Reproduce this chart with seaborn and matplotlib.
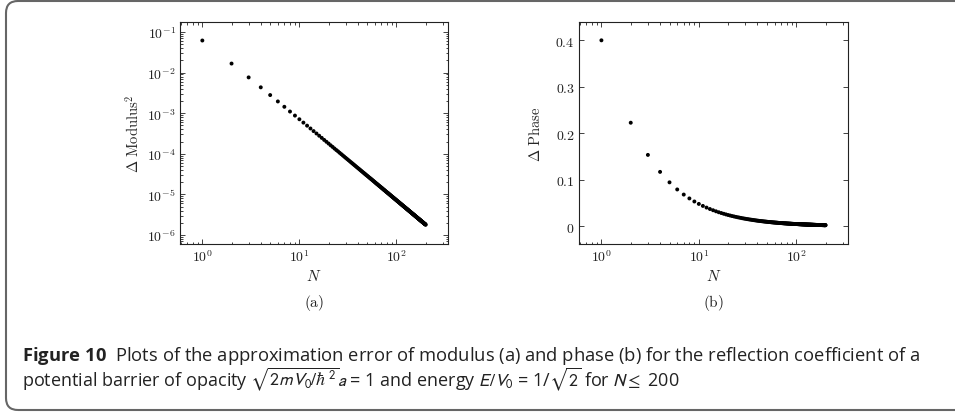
import numpy as np
import pandas as pd
import matplotlib
matplotlib.use("Agg")
import matplotlib.pyplot as plt
import matplotlib.patches as mpatches
import matplotlib.transforms as mtransforms
from matplotlib.ticker import FuncFormatter, LogLocator, FixedLocator, NullFormatter
import seaborn as sns

# N = 1 .. 200
n_values = np.arange(1, 201)

# Delta Modulus^2
modulus_err = [
    0.0617, 0.0167, 0.00762, 0.00434, 0.00280, 0.00195, 0.00144, 0.00110, 0.000875, 0.000710,
    0.000587, 0.000494, 0.000421, 0.000363, 0.000317, 0.000279, 0.000247, 0.000220, 0.000198, 0.000179,
    0.000162, 0.000148, 0.000135, 0.000124, 0.000115, 0.000106, 9.83e-5, 9.14e-5, 8.52e-5, 7.96e-5,
    7.46e-5, 7.00e-5, 6.58e-5, 6.20e-5, 5.86e-5, 5.54e-5, 5.24e-5, 4.97e-5, 4.71e-5, 4.48e-5,
    4.27e-5, 4.07e-5, 3.88e-5, 3.71e-5, 3.55e-5, 3.39e-5, 3.25e-5, 3.12e-5, 2.99e-5, 2.87e-5,
    2.77e-5, 2.66e-5, 2.56e-5, 2.47e-5, 2.38e-5, 2.30e-5, 2.22e-5, 2.14e-5, 2.07e-5, 2.00e-5,
    1.93e-5, 1.87e-5, 1.81e-5, 1.76e-5, 1.70e-5, 1.65e-5, 1.60e-5, 1.56e-5, 1.51e-5, 1.47e-5,
    1.43e-5, 1.39e-5, 1.35e-5, 1.31e-5, 1.28e-5, 1.25e-5, 1.21e-5, 1.18e-5, 1.15e-5, 1.12e-5,
    1.10e-5, 1.07e-5, 1.05e-5, 1.02e-5, 9.97e-6, 9.74e-6, 9.51e-6, 9.30e-6, 9.09e-6, 8.89e-6,
    8.69e-6, 8.51e-6, 8.32e-6, 8.15e-6, 7.98e-6, 7.81e-6, 7.65e-6, 7.50e-6, 7.35e-6, 7.20e-6,
    7.06e-6, 6.92e-6, 6.79e-6, 6.66e-6, 6.53e-6, 6.41e-6, 6.29e-6, 6.17e-6, 6.06e-6, 5.95e-6,
    5.84e-6, 5.74e-6, 5.64e-6, 5.54e-6, 5.44e-6, 5.35e-6, 5.26e-6, 5.17e-6, 5.08e-6, 5.00e-6,
    4.92e-6, 4.84e-6, 4.76e-6, 4.68e-6, 4.61e-6, 4.54e-6, 4.46e-6, 4.39e-6, 4.33e-6, 4.26e-6,
    4.20e-6, 4.13e-6, 4.07e-6, 4.01e-6, 3.95e-6, 3.89e-6, 3.84e-6, 3.78e-6, 3.73e-6, 3.67e-6,
    3.62e-6, 3.57e-6, 3.52e-6, 3.47e-6, 3.42e-6, 3.38e-6, 3.33e-6, 3.29e-6, 3.24e-6, 3.20e-6,
    3.16e-6, 3.12e-6, 3.08e-6, 3.04e-6, 3.00e-6, 2.96e-6, 2.92e-6, 2.88e-6, 2.85e-6, 2.81e-6,
    2.78e-6, 2.74e-6, 2.71e-6, 2.68e-6, 2.64e-6, 2.61e-6, 2.58e-6, 2.55e-6, 2.52e-6, 2.49e-6,
    2.46e-6, 2.43e-6, 2.41e-6, 2.38e-6, 2.35e-6, 2.32e-6, 2.30e-6, 2.27e-6, 2.25e-6, 2.22e-6,
    2.20e-6, 2.17e-6, 2.15e-6, 2.13e-6, 2.10e-6, 2.08e-6, 2.06e-6, 2.04e-6, 2.02e-6, 1.99e-6,
    1.97e-6, 1.95e-6, 1.93e-6, 1.91e-6, 1.89e-6, 1.87e-6, 1.86e-6, 1.84e-6, 1.82e-6, 1.80e-6,
]

# Delta Phase
phase_err = [
    0.400, 0.2228, 0.1536, 0.1171, 0.0946, 0.0793, 0.0683, 0.0600, 0.0534, 0.0482,
    0.0439, 0.0403, 0.0372, 0.0346, 0.0323, 0.0303, 0.0286, 0.0270, 0.0256, 0.0243,
    0.0232, 0.0221, 0.0212, 0.0203, 0.0195, 0.0188, 0.0181, 0.0174, 0.0168, 0.0163,
    0.0157, 0.0153, 0.0148, 0.0144, 0.0140, 0.0136, 0.0132, 0.0129, 0.0125, 0.0122,
    0.0119, 0.0116, 0.0114, 0.0111, 0.0109, 0.0106, 0.0104, 0.0102, 0.0100, 0.0098,
    0.0096, 0.0094, 0.0092, 0.0091, 0.0089, 0.0087, 0.0086, 0.0084, 0.0083, 0.0082,
    0.0080, 0.0079, 0.0078, 0.0077, 0.0075, 0.0074, 0.0073, 0.0072, 0.0071, 0.0070,
    0.0069, 0.0068, 0.0067, 0.0066, 0.0065, 0.0064, 0.0064, 0.0063, 0.0062, 0.0061,
    0.0060, 0.0060, 0.0059, 0.0058, 0.0058, 0.0057, 0.0056, 0.0056, 0.0055, 0.0054,
    0.0054, 0.0053, 0.0053, 0.0052, 0.0052, 0.0051, 0.0051, 0.0050, 0.0050, 0.0049,
    0.0049, 0.0048, 0.0048, 0.0047, 0.0047, 0.0046, 0.0046, 0.0045, 0.0045, 0.0045,
    0.0044, 0.0044, 0.0043, 0.0043, 0.0043, 0.0042, 0.0042, 0.0042, 0.0041, 0.0041,
    0.0041, 0.0040, 0.0040, 0.0040, 0.0039, 0.0039, 0.0039, 0.0038, 0.0038, 0.0038,
    0.0037, 0.0037, 0.0037, 0.0037, 0.0036, 0.0036, 0.0036, 0.0036, 0.0035, 0.0035,
    0.0035, 0.0035, 0.0034, 0.0034, 0.0034, 0.0034, 0.0033, 0.0033, 0.0033, 0.0033,
    0.0032, 0.0032, 0.0032, 0.0032, 0.0032, 0.0031, 0.0031, 0.0031, 0.0031, 0.0031,
    0.0030, 0.0030, 0.0030, 0.0030, 0.0030, 0.0030, 0.0029, 0.0029, 0.0029, 0.0029,
    0.0029, 0.0029, 0.0028, 0.0028, 0.0028, 0.0028, 0.0028, 0.0028, 0.0027, 0.0027,
    0.0027, 0.0027, 0.0027, 0.0027, 0.0027, 0.0026, 0.0026, 0.0026, 0.0026, 0.0026,
    0.0026, 0.0026, 0.0025, 0.0025, 0.0025, 0.0025, 0.0025, 0.0025, 0.0025, 0.0025,
]

phase_ticks = [0, 0.1, 0.2, 0.3, 0.4]
panel_labels = ["(a)", "(b)"]
caption_line1 = (r"$\mathbf{Figure\ 10}$  Plots of the approximation error of modulus (a) "
                 r"and phase (b) for the reflection coefficient of a")
caption_line2 = (r"potential barrier of opacity $\sqrt{2mV_0/\hbar^2}a$ = 1 and energy "
                 r"$E/V_0$ = 1/$\sqrt{2}$ for $N \leq$ 200")

df = pd.DataFrame({"N": n_values, "modulus": modulus_err, "phase": phase_err})

sns.set_style("ticks")
plt.rcParams["mathtext.fontset"] = "cm"
plt.rcParams["mathtext.rm"] = "Open Sans"
plt.rcParams["mathtext.it"] = "Open Sans:italic"
plt.rcParams["mathtext.bf"] = "Open Sans:bold"

W, H = 955, 414
fig = plt.figure(figsize=(W / 100, H / 100), dpi=100)

def px_axes(x0, y0, x1, y1):
    return fig.add_axes([x0 / W, 1 - y1 / H, (x1 - x0) / W, (y1 - y0) / H])

ax1 = px_axes(180, 23, 448, 245)
ax2 = px_axes(579, 23, 848, 245)

for ax, col in [(ax1, "modulus"), (ax2, "phase")]:
    ax.set_xscale("log")
    sns.scatterplot(data=df, x="N", y=col, ax=ax, color="black", s=8,
                    linewidth=0, edgecolor="none")
    ax.set_xlim(10 ** -0.2301, 10 ** 2.5312)
    ax.xaxis.set_major_locator(LogLocator(base=10, numticks=10))
    ax.xaxis.set_minor_locator(LogLocator(base=10, subs=np.arange(2, 10), numticks=20))
    ax.xaxis.set_major_formatter(FuncFormatter(lambda v, p: r"$10^{%d}$" % round(np.log10(v))))
    ax.xaxis.set_minor_formatter(NullFormatter())
    ax.tick_params(which="both", direction="in", top=True, right=True,
                   labelsize=10, colors="#222222", width=0.6, pad=3)
    ax.tick_params(which="major", length=3.5)
    ax.tick_params(which="minor", length=1.8)
    for s in ax.spines.values():
        s.set_linewidth(0.8)
        s.set_color("#222222")
    ax.set_xlabel(r"$N$", fontsize=11, labelpad=3)

ax1.set_yscale("log")
ax1.set_ylim(10 ** -6.22, 10 ** -0.754)
ax1.yaxis.set_major_locator(LogLocator(base=10, numticks=10))
ax1.yaxis.set_minor_locator(LogLocator(base=10, subs=np.arange(2, 10), numticks=20))
ax1.yaxis.set_major_formatter(FuncFormatter(lambda v, p: r"$10^{%d}$" % round(np.log10(v))))
ax1.yaxis.set_minor_formatter(NullFormatter())
ax1.set_ylabel(r"$\Delta\ \mathrm{Modulus}^2$", fontsize=10.5, labelpad=4)

ax2.set_ylim(-0.038, 0.4394)
ax2.yaxis.set_major_locator(FixedLocator(phase_ticks))
ax2.yaxis.set_major_formatter(FuncFormatter(lambda v, p: r"$0$" if abs(v) < 1e-9 else r"$%.1f$" % v))
ax2.set_ylabel(r"$\Delta\ \mathrm{Phase}$", fontsize=10.5, labelpad=9)

for ax, lab in zip([ax1, ax2], panel_labels):
    ax.text(0.5, -0.215, r"$\mathrm{%s}$" % lab, transform=ax.transAxes,
            ha="center", va="top", fontsize=11, color="#222222")

# caption
fig.text(22 / W, 1 - 361 / H, caption_line1, fontsize=13.2, family="Open Sans",
         color="#222222", va="baseline", math_fontfamily="custom")
fig.text(22 / W, 1 - 386 / H, caption_line2, fontsize=13, family="Open Sans",
         color="#222222", va="baseline", math_fontfamily="stixsans")

# rounded frame (open on the right)
frame = mpatches.FancyBboxPatch((6, 3), 980, 409,
                                boxstyle="round,pad=0,rounding_size=12",
                                transform=mtransforms.IdentityTransform(),
                                facecolor="none", edgecolor="#666666", linewidth=1.5)
fig.add_artist(frame)

fig.savefig("out.png", dpi=100)
